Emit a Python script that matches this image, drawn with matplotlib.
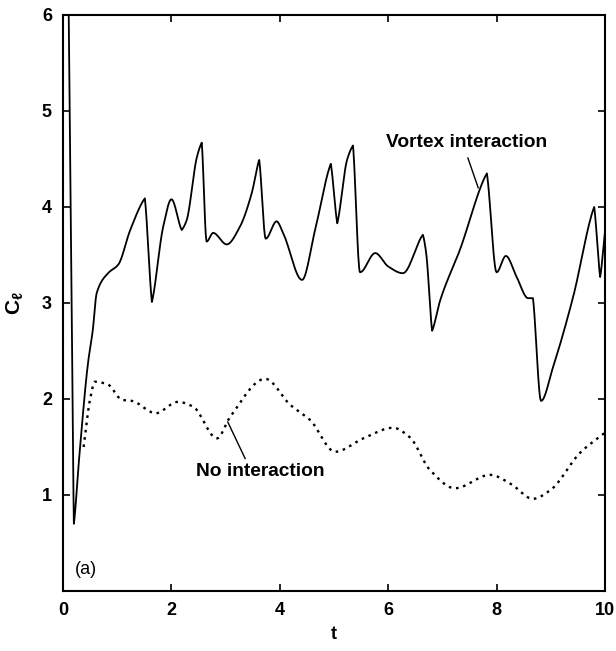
import numpy as np
import matplotlib
matplotlib.use("Agg")
import matplotlib.pyplot as plt

plt.rcParams['font.family'] = ['Liberation Sans', 'DejaVu Sans']
plt.rcParams['font.weight'] = 'bold'
plt.rcParams['mathtext.fontset'] = 'custom'
plt.rcParams['mathtext.rm'] = 'Liberation Sans:bold'
plt.rcParams['mathtext.it'] = 'Liberation Sans:bold'

# Lift coefficient with vortex interaction
t_vortex = [0.10, 0.16, 0.20, 0.30, 0.46, 0.55, 0.62, 0.83, 1.02, 1.24, 1.51, 1.64,
            1.85, 2.00, 2.19, 2.28, 2.47, 2.56, 2.65, 2.77, 3.02, 3.26, 3.48, 3.62,
            3.74, 3.94, 4.06, 4.41, 4.65, 4.94, 5.06, 5.24, 5.35, 5.48, 5.76, 6.00,
            6.27, 6.64, 6.70, 6.81, 6.96, 7.32, 7.82, 8.00, 8.17, 8.37, 8.58, 8.67,
            8.82, 9.04, 9.41, 9.80, 9.91, 10.00]
cl_vortex = [6.30, 3.00, 0.70, 1.40, 2.37, 2.72, 3.10, 3.31, 3.40, 3.76, 4.09, 3.01,
             3.80, 4.08, 3.76, 3.86, 4.52, 4.67, 3.64, 3.73, 3.61, 3.79, 4.14, 4.49,
             3.67, 3.85, 3.73, 3.24, 3.76, 4.45, 3.83, 4.49, 4.64, 3.32, 3.52, 3.38,
             3.31, 3.71, 3.52, 2.71, 3.03, 3.55, 4.35, 3.32, 3.49, 3.27, 3.05, 3.05,
             1.98, 2.33, 3.06, 4.00, 3.27, 3.75]
# knots where the vortex curve has a corner rather than a rounded turn
corner_times = [0.20, 1.51, 1.64, 2.19, 2.56, 3.62, 4.94, 5.06, 5.35, 6.64, 6.81,
                7.82, 8.67, 9.80, 9.91]

# Lift coefficient without interaction
t_plain = [0.38, 0.50, 0.59, 0.83, 1.09, 1.27, 1.64, 1.70, 2.12, 2.40, 2.84, 3.08,
           3.73, 4.19, 4.56, 5.02, 5.54, 6.09, 6.40, 6.77, 7.23, 7.88, 8.25, 8.67,
           8.99, 9.54, 10.00]
cl_plain = [1.50, 2.00, 2.18, 2.15, 1.99, 1.98, 1.86, 1.85, 1.97, 1.92, 1.59, 1.81,
            2.21, 1.94, 1.78, 1.45, 1.59, 1.70, 1.60, 1.26, 1.07, 1.21, 1.12, 0.96,
            1.05, 1.44, 1.65]

x_ticks = [0, 2, 4, 6, 8, 10]
y_ticks = [1, 2, 3, 4, 5, 6]


def pchip(xk, yk, corners=(), n=16):
    """Monotone piecewise-cubic (Fritsch-Carlson) curve through the knots,
    with one-sided tangents at the listed corner knots."""
    xk = np.asarray(xk, float)
    yk = np.asarray(yk, float)
    h = np.diff(xk)
    d = np.diff(yk) / h
    m = np.zeros_like(yk)
    for i in range(1, len(yk) - 1):
        if d[i - 1] * d[i] > 0:
            w1 = 2 * h[i] + h[i - 1]
            w2 = h[i] + 2 * h[i - 1]
            m[i] = (w1 + w2) / (w1 / d[i - 1] + w2 / d[i])
    m[0] = d[0]
    m[-1] = d[-1]
    m_in = m.copy()
    m_out = m.copy()
    for c in corners:
        i = int(np.argmin(np.abs(xk - c)))
        if 0 < i < len(xk) - 1:
            m_in[i] = 0.6 * d[i - 1]
            m_out[i] = 0.6 * d[i]
    xs, ys = [], []
    for i in range(len(xk) - 1):
        s = np.linspace(0, 1, n, endpoint=False)
        h00 = 2 * s**3 - 3 * s**2 + 1
        h10 = s**3 - 2 * s**2 + s
        h01 = -2 * s**3 + 3 * s**2
        h11 = s**3 - s**2
        xs.append(xk[i] + h[i] * s)
        ys.append(h00 * yk[i] + h10 * h[i] * m_out[i]
                  + h01 * yk[i + 1] + h11 * h[i] * m_in[i + 1])
    xs.append([xk[-1]])
    ys.append([yk[-1]])
    return np.concatenate(xs), np.concatenate(ys)


fig = plt.figure(figsize=(6.16, 6.51), dpi=100)
ax = fig.add_axes([0.1023, 0.0922, 0.8799, 0.8848])

tv, yv = pchip(t_vortex, cl_vortex, corner_times)
ax.plot(tv, yv, color='black', lw=1.3)
tp, yp = pchip(t_plain, cl_plain)
ax.plot(tp, yp, color='black', lw=1.7, linestyle=(0, (1.1, 2.0)))

ax.set_xlim(0, 10)
ax.set_ylim(0, 6)
ax.set_xticks(x_ticks)
ax.set_yticks(y_ticks)
ax.tick_params(direction='in', length=5, width=1.2, top=True, right=True,
               labelsize=13, pad=8)
for lab in ax.get_xticklabels() + ax.get_yticklabels():
    lab.set_fontweight('bold')
for sp in ax.spines.values():
    sp.set_linewidth(1.5)

ax.set_xlabel('t', fontsize=13, fontweight='bold', labelpad=5)
ax.set_ylabel(r'$C_\ell$', fontsize=15, labelpad=12)

ax.text(7.44, 4.67, 'Vortex interaction', fontsize=13.8, fontweight='bold',
        ha='center', va='center')
ax.plot([7.47, 7.66], [4.51, 4.20], color='black', lw=1.0)

ax.text(3.63, 1.24, 'No interaction', fontsize=13.8, fontweight='bold',
        ha='center', va='center')
ax.plot([3.04, 3.36], [1.76, 1.38], color='black', lw=1.0)

ax.text(0.22, 0.22, '(a)', fontsize=13, fontweight='normal', ha='left', va='center')

fig.savefig('out.png', dpi=100)
